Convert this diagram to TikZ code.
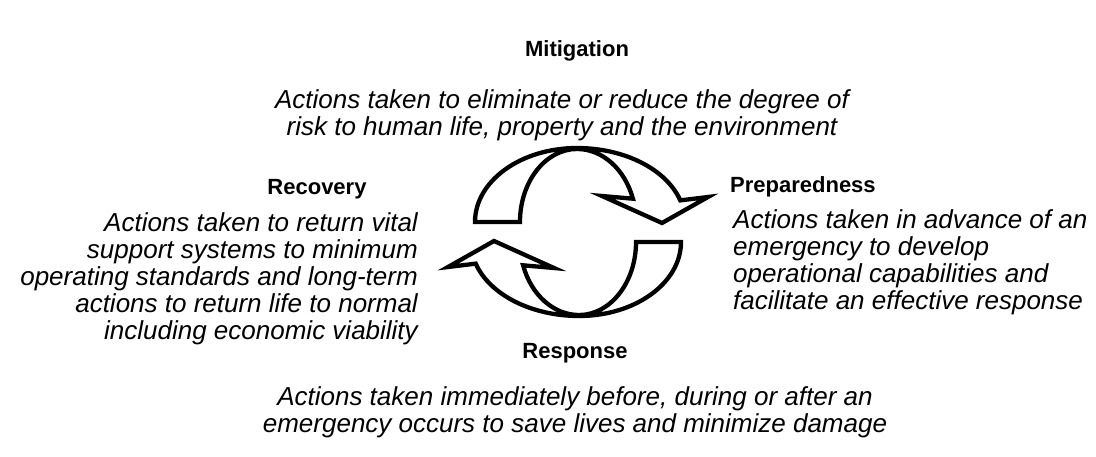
\documentclass[tikz,border=0pt]{standalone}
\usepackage{fontspec}
\setmainfont{Liberation Sans}
\begin{document}
\begin{tikzpicture}[x=1pt,y=-1pt,
  title/.style={font=\fontsize{22}{26}\selectfont\bfseries, inner sep=0pt},
  desc/.style={font=\fontsize{26}{27}\selectfont\itshape, inner sep=0pt},
  cyclearrow/.style={draw=black, line width=4.3pt, line join=miter, fill=white}]
\useasboundingbox (0,0) rectangle (1096,456);
\fill[white] (0,0) rectangle (1096,456);

% cycle arrows
\newcommand{\cyclearrowpath}{%
  (475,222) arc[start angle=180, end angle=270, x radius=102, y radius=74]
  arc[start angle=270, end angle=343, x radius=108, y radius=74]
  -- (708,197) -- (662,223) -- (602,196) -- (632.9,198.7)
  arc[start angle=341.4, end angle=270, x radius=59, y radius=73]
  arc[start angle=270, end angle=180, x radius=57, y radius=73]
  -- cycle}
\draw[cyclearrow] \cyclearrowpath;
\begin{scope}[rotate around={180:(578,232)}]
\draw[cyclearrow] \cyclearrowpath;
\end{scope}

% texts
\node[title] (mit) at (577,51) {Mitigation};
\node[desc, align=center] (mitd) at (562,115.5) {Actions taken to eliminate or reduce the degree of\\risk to human life, property and the environment};
\node[title] (rec) at (317,189) {Recovery};
\node[desc, align=right, anchor=east] (recd) at (418,278.5) {Actions taken to return vital\\support systems to minimum\\operating standards and long-term\\actions to return life to normal\\including economic viability};
\node[title, anchor=west] (prep) at (730,187) {Preparedness};
\node[desc, align=left, anchor=west] (prepd) at (733,262) {Actions taken in advance of an\\emergency to develop\\operational capabilities and\\facilitate an effective response};
\node[title] (resp) at (575,353) {Response};
\node[desc, align=center] (respd) at (575,412.5) {Actions taken immediately before, during or after an\\emergency occurs to save lives and minimize damage};
\end{tikzpicture}
\end{document}
